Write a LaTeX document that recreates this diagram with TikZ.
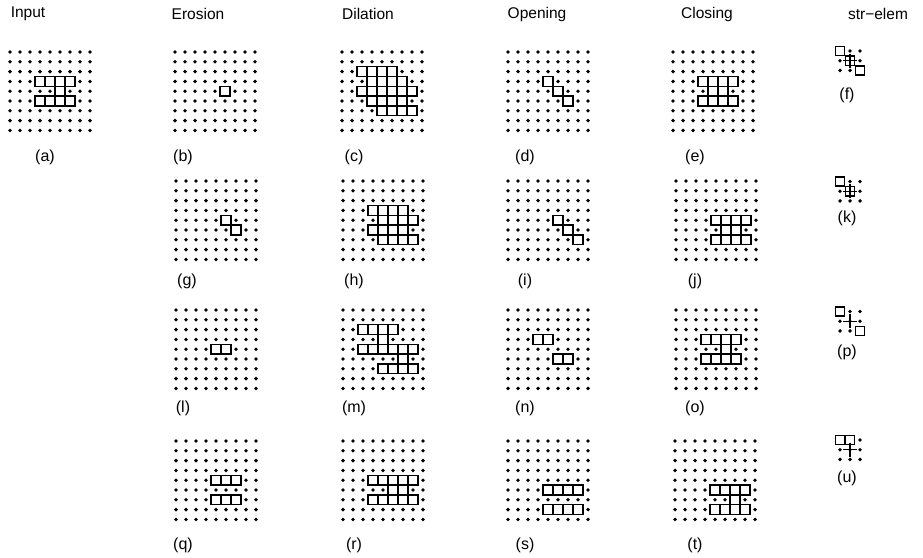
\documentclass[tikz,border=0pt]{standalone}
\usepackage{fontspec}
\setmainfont{Liberation Sans}
\newcommand{\mgrid}[3]{%
 \begin{scope}[shift={(#1,#2)}]
 \foreach \gi in {0,...,8}{\foreach \gj in {0,...,8}{\fill (\gj*10,\gi*9.8) circle (1.9);}}
 \foreach \gr/\gc in {#3}{\draw[cellbox] (\gc*10-5,\gr*9.8-4.9) rectangle ++(10,9.8);}
 \end{scope}}
\newcommand{\selem}[3]{%
 \begin{scope}[shift={(#1,#2)}]
 \foreach \gi in {0,1,2}{\foreach \gj in {0,1,2}{\fill (\gj*10,\gi*9.7) circle (1.9);}}
 \foreach \gr/\gc in {#3}{\draw[cellbox] (\gc*10-4.6,\gr*9.7-4.6) rectangle ++(9.2,9.2);}
 \draw[line width=1.2pt] (10,9.7-7) -- (10,9.7+7) (3,9.7) -- (17,9.7);
 \end{scope}}
\begin{document}
\begin{tikzpicture}[x=1pt,y=-1pt,
  cellbox/.style={draw=black,fill=white,line width=1.4pt},
  hdr/.style={font=\fontsize{15.5}{17}\selectfont},
  lbl/.style={font=\fontsize{16}{18}\selectfont}]
\useasboundingbox[fill=white] (0,0) rectangle (923,557);
% headers
\node[hdr] (hIn) at (28,14) {Input};
\node[hdr] (hEr) at (198,14) {Erosion};
\node[hdr] (hDi) at (368,14) {Dilation};
\node[hdr] (hOp) at (537,14) {Opening};
\node[hdr] (hCl) at (707,14) {Closing};
\node[hdr] (hSe) at (878,14) {str\char"2212 elem};
% row 1
\mgrid{10}{52}{3/3,3/4,3/5,3/6,4/5,5/3,5/4,5/5,5/6}
\mgrid{175}{52}{4/5}
\mgrid{342}{52}{2/2,2/3,2/4,2/5,3/3,3/4,3/5,3/6,4/2,4/3,4/4,4/5,4/6,4/7,5/3,5/4,5/5,5/6,6/4,6/5,6/6,6/7}
\mgrid{508}{52}{3/4,4/5,5/6}
\mgrid{673}{52}{3/3,3/4,3/5,3/6,4/4,4/5,5/3,5/4,5/5,5/6}
\selem{840}{51}{0/0,1/1,2/2}
% row 2
\mgrid{176}{181}{4/5,5/6}
\mgrid{343}{181}{3/3,3/4,3/5,3/6,4/4,4/5,4/6,4/7,5/3,5/4,5/5,5/6,6/4,6/5,6/6,6/7}
\mgrid{508}{181}{4/5,5/6,6/7}
\mgrid{676}{181}{4/4,4/5,4/6,4/7,5/5,5/6,6/4,6/5,6/6,6/7}
\selem{840}{181.5}{0/0,1/1}
% row 3
\mgrid{176}{310}{4/4,4/5}
\mgrid{343}{310}{2/2,2/3,2/4,2/5,3/4,4/2,4/3,4/4,4/5,4/6,4/7,5/6,6/4,6/5,6/6,6/7}
\mgrid{508}{310}{3/3,3/4,5/5,5/6}
\mgrid{676}{310}{3/3,3/4,3/5,3/6,4/5,5/3,5/4,5/5,5/6}
\selem{840}{311.5}{0/0,2/2}
% row 4
\mgrid{176}{441}{4/4,4/5,4/6,6/4,6/5,6/6}
\mgrid{343}{441}{4/3,4/4,4/5,4/6,4/7,5/5,5/6,6/3,6/4,6/5,6/6,6/7}
\mgrid{508}{441}{5/4,5/5,5/6,5/7,7/4,7/5,7/6,7/7}
\mgrid{675}{441}{5/4,5/5,5/6,5/7,6/6,7/4,7/5,7/6,7/7}
\selem{840}{440}{0/0,0/1}
% labels
\node[lbl] (la) at (45,157) {(a)};
\node[lbl] (lb) at (183,157) {(b)};
\node[lbl] (lc) at (354,157) {(c)};
\node[lbl] (ld) at (525,157) {(d)};
\node[lbl] (le) at (695,157) {(e)};
\node[lbl] (lf) at (847,95) {(f)};
\node[lbl] (lg) at (187,281) {(g)};
\node[lbl] (lh) at (354,281) {(h)};
\node[lbl] (li) at (525,281) {(i)};
\node[lbl] (lj) at (695,281) {(j)};
\node[lbl] (lk) at (847,218) {(k)};
\node[lbl] (ll) at (183,408) {(l)};
\node[lbl] (lm) at (354,408) {(m)};
\node[lbl] (ln) at (525,408) {(n)};
\node[lbl] (lo) at (695,408) {(o)};
\node[lbl] (lp) at (847,352) {(p)};
\node[lbl] (lq) at (183,545) {(q)};
\node[lbl] (lr) at (354,545) {(r)};
\node[lbl] (ls) at (525,545) {(s)};
\node[lbl] (lt) at (695,545) {(t)};
\node[lbl] (lu) at (847,478) {(u)};
\end{tikzpicture}
\end{document}
